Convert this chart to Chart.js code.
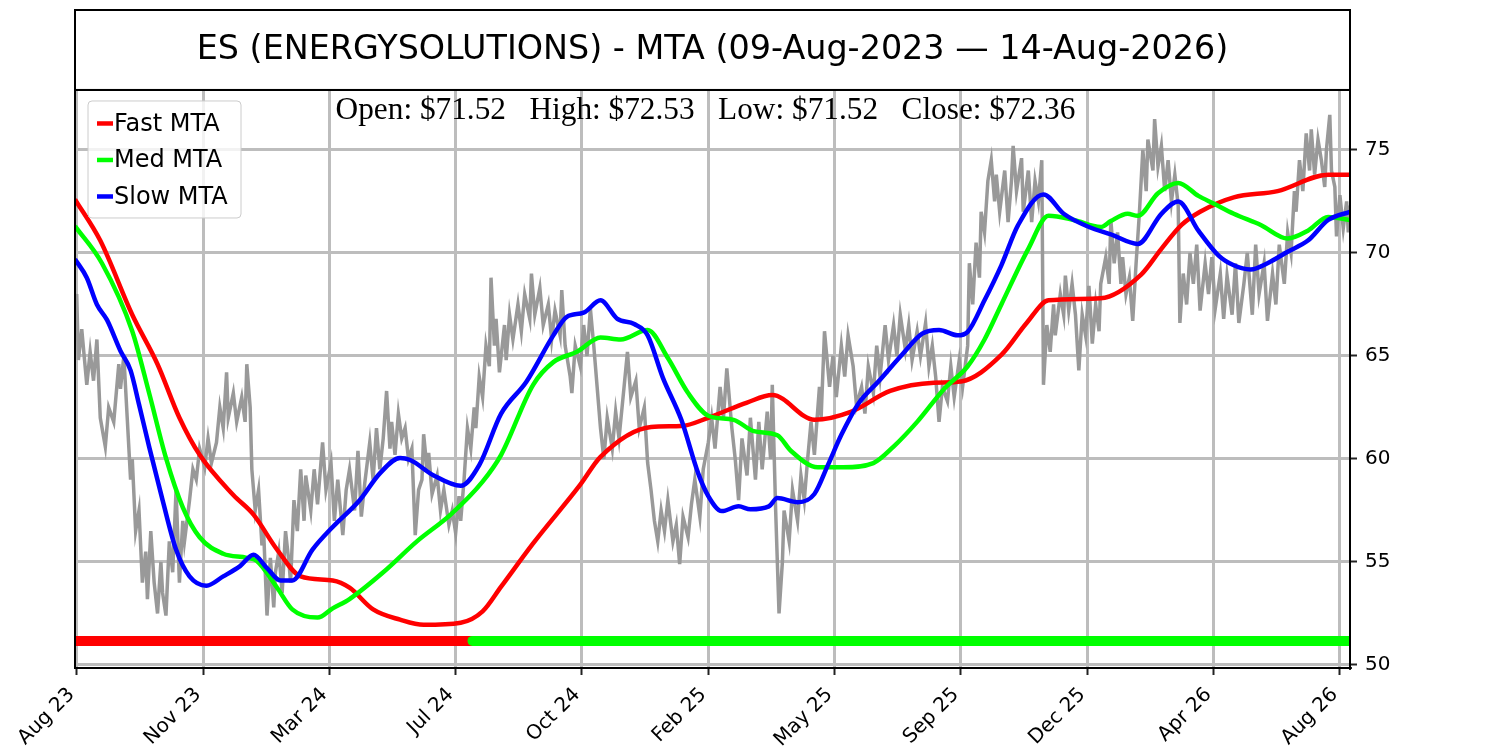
<!DOCTYPE html>
<html>
<head>
<meta charset="utf-8">
<title>ES (ENERGYSOLUTIONS) - MTA</title>
<script src="https://cdn.jsdelivr.net/npm/chart.js@4.4.1/dist/chart.umd.min.js"></script>
<style>
  html, body { margin: 0; padding: 0; background: #fff; }
  #wrap { width: 1500px; height: 750px; }
</style>
</head>
<body>
<div id="wrap"><canvas id="chart" width="1500" height="750"></canvas></div>
<script>
// x axis is the trading-day index (0 = 09-Aug-2023)
const lastDay = 757;
const tickDays = [1, 76, 151, 226, 301, 376, 451, 526, 601, 676, 751];
const tickLabels = ["Aug 23", "Nov 23", "Mar 24", "Jul 24", "Oct 24", "Feb 25",
  "May 25", "Sep 25", "Dec 25", "Apr 26", "Aug 26"];
const yTicks = [50, 55, 60, 65, 70, 75];

const titleText = "ES (ENERGYSOLUTIONS) - MTA (09-Aug-2023 \u2014 14-Aug-2026)";
const openPrice = 71.52;
const highPrice = 72.53;
const lowPrice = 71.52;
const closePrice = 72.36;

// price trace, [day, price]
const pricePath = [
  [0,67.5],[1,68.0],[2,64.8],[4,66.3],[7,63.6],[9,65.2],[11,63.8],[13,65.8],[15,62.0],[18,60.6],[20,62.5],
  [23,61.8],[26,64.6],[27,63.4],[29,65.0],[31,62.0],[33,59.0],[34,60.0],[36,56.5],[38,57.5],[40,54.0],
  [42,55.5],[43,53.2],[45,56.5],[47,54.0],[49,52.5],[51,55.0],[52,53.5],[54,52.4],[56,56.0],[58,54.5],
  [60,58.5],[62,54.0],[64,57.0],[65,56.0],[68,58.0],[70,59.5],[72,59.0],[74,60.5],[77,59.6],[79,61.0],
  [81,59.8],[84,60.8],[86,62.5],[88,61.5],[90,64.2],[91,62.0],[94,63.2],[96,61.8],[99,63.0],[101,61.8],
  [102,64.6],[104,62.5],[105,59.5],[107,57.5],[109,58.5],[111,55.8],[112,56.5],[114,52.4],[116,55.2],
  [118,52.8],[119,54.5],[121,55.5],[123,53.5],[125,56.5],[127,55.0],[128,54.0],[130,58.0],[132,56.5],
  [134,59.5],[136,57.0],[137,59.2],[140,57.5],[142,59.5],[144,57.8],[147,60.8],[149,58.5],[152,59.8],
  [154,57.0],[156,59.0],[159,56.3],[161,58.5],[163,59.5],[166,57.5],[168,60.4],[170,57.2],[172,58.8],
  [175,60.8],[177,59.0],[179,61.5],[181,59.5],[183,61.0],[185,63.3],[187,60.5],[188,61.8],[190,60.2],
  [192,62.2],[194,61.0],[196,61.5],[198,60.0],[200,60.5],[202,56.3],[204,58.5],[206,59.0],[207,61.2],
  [209,59.5],[210,60.3],[212,58.3],[215,59.2],[217,57.5],[219,58.5],[222,56.8],[224,57.5],[226,56.4],
  [228,58.2],[229,57.0],[231,59.0],[233,61.5],[235,60.5],[237,62.5],[238,61.5],[240,64.0],[242,63.0],
  [244,65.5],[246,64.5],[247,68.8],[249,65.5],[250,66.8],[252,64.2],[255,66.5],[256,64.8],[258,67.0],
  [260,65.8],[263,67.5],[265,66.2],[267,68.0],[270,66.8],[271,69.0],[273,67.0],[276,68.3],[278,66.5],
  [281,67.5],[283,65.8],[285,67.2],[288,66.0],[289,68.2],[291,65.5],[294,64.0],[295,63.2],[297,65.5],
  [300,64.5],[302,66.5],[304,65.0],[306,67.3],[308,65.5],[310,63.5],[312,61.5],[314,60.0],[316,62.0],
  [319,60.5],[321,62.3],[323,61.0],[326,63.5],[328,65.2],[330,63.0],[333,63.8],[335,61.5],[338,62.5],
  [340,59.8],[342,58.5],[344,57.0],[346,56.0],[348,57.5],[350,56.5],[352,58.0],[355,56.0],[357,56.8],
  [359,54.9],[361,57.2],[364,56.2],[366,57.8],[368,59.0],[371,57.2],[373,59.5],[376,60.8],[378,62.0],
  [380,60.5],[383,63.5],[385,62.0],[387,64.4],[390,61.5],[392,60.0],[394,58.0],[396,61.0],[399,59.2],
  [401,62.0],[404,59.0],[406,61.8],[408,59.5],[411,62.3],[413,60.0],[414,63.6],[416,57.5],[418,52.5],
  [420,55.0],[421,57.5],[424,56.0],[426,58.5],[429,57.0],[431,59.2],[433,58.0],[435,60.0],[437,61.8],
  [439,60.2],[442,63.5],[443,62.0],[445,66.2],[448,63.5],[450,65.0],[452,63.0],[455,65.5],[457,64.0],
  [459,66.0],[462,64.5],[464,62.6],[467,63.5],[469,62.2],[471,64.5],[474,63.2],[476,65.5],[478,64.0],
  [481,66.5],[483,64.8],[486,66.5],[488,65.0],[490,67.0],[493,65.3],[495,66.5],[497,64.8],[500,66.2],
  [502,65.0],[505,66.6],[507,64.5],[509,65.5],[511,64.0],[513,61.8],[515,63.5],[518,62.8],[520,64.5],
  [522,63.0],[525,64.8],[527,63.5],[530,65.5],[531,69.5],[533,67.5],[535,70.5],[537,68.8],[538,72.0],
  [540,71.0],[542,73.5],[544,74.5],[546,72.5],[547,73.8],[549,72.0],[552,74.0],[554,71.5],[556,73.5],
  [557,75.2],[559,73.0],[562,74.6],[563,72.0],[566,74.0],[568,71.5],[570,73.5],[572,72.5],[574,74.5],
  [575,63.6],[577,66.5],[579,65.2],[581,67.5],[582,66.0],[585,68.0],[587,67.0],[588,68.9],[590,67.2],
  [592,68.5],[594,67.0],[596,64.3],[598,67.0],[600,66.0],[602,68.4],[604,65.6],[606,67.5],[608,66.2],
  [609,68.5],[612,69.8],[614,68.5],[615,71.6],[617,69.5],[619,71.0],[621,68.5],[622,69.8],[624,68.0],
  [626,68.8],[628,66.7],[630,69.5],[632,72.0],[634,75.0],[636,73.0],[637,75.5],[640,74.0],[641,76.5],
  [643,74.2],[645,75.2],[647,73.0],[649,74.5],[651,72.5],[653,73.8],[655,72.3],[656,66.6],[658,69.0],
  [660,67.5],[662,70.0],[664,68.5],[666,70.4],[668,67.2],[671,69.5],[673,68.0],[675,69.8],[677,67.3],
  [680,69.0],[682,66.8],[684,68.9],[687,67.0],[689,69.5],[691,66.6],[694,68.5],[696,70.0],[699,67.0],
  [701,70.4],[703,68.0],[706,69.5],[708,66.7],[711,69.0],[713,67.5],[715,70.4],[718,68.5],[720,71.0],
  [722,70.0],[724,73.0],[725,72.0],[727,74.5],[729,73.0],[731,75.8],[733,74.0],[734,76.0],[736,73.8],
  [738,75.5],[740,74.5],[742,73.2],[743,75.0],[745,76.7],[746,74.0],[748,73.2],[749,70.8],[751,72.8],
  [753,71.2],[755,72.5],[756,71.0],[757,72.3]
];

// moving trend averages, [day, value]
const fastMta = [
  [0,72.6],[15,70.6],[34,67.0],[49,64.6],[62,62.0],[74,60.2],[94,58.25],[106,57.3],[120,55.6],[134,54.3],
  [153,54.1],[163,53.75],[177,52.7],[193,52.2],[207,51.95],[229,52.05],[242,52.6],[253,53.8],[272,55.9],
  [300,58.75],[312,60.1],[342,61.55],[360,61.6],[376,62.0],[399,62.74],[414,63.1],[439,61.9],[461,62.3],
  [484,63.3],[510,63.7],[526,63.76],[550,65.05],[565,66.6],[578,67.7],[609,67.8],[633,68.95],[645,70.2],
  [657,71.36],[668,72.0],[688,72.7],[714,73.0],[744,73.8],[757,73.8]
];
const medMta = [
  [0,71.3],[16,69.5],[34,66.2],[44,63.2],[54,60.05],[64,57.65],[74,56.2],[88,55.4],[102,55.2],[108,55.05],
  [120,53.75],[129,52.7],[144,52.3],[153,52.75],[163,53.2],[183,54.5],[203,56.0],[223,57.3],[242,58.9],
  [253,60.2],[272,63.6],[284,64.7],[298,65.2],[312,65.9],[324,65.8],[340,66.26],[352,64.9],[364,63.2],
  [376,62.1],[391,61.9],[403,61.35],[417,61.15],[425,60.4],[441,59.6],[456,59.6],[474,59.8],[486,60.6],
  [500,61.8],[516,63.4],[530,64.5],[540,65.8],[550,67.5],[566,70.2],[578,71.8],[593,71.6],[609,71.26],
  [615,71.55],[625,71.9],[631,71.8],[643,72.9],[655,73.4],[667,72.77],[676,72.4],[688,71.9],[704,71.36],
  [720,70.7],[732,71.08],[744,71.75],[757,71.6]
];
const slowMta = [
  [0,69.7],[7,68.8],[13,67.5],[19,66.75],[27,65.24],[33,64.3],[38,62.65],[44,60.6],[52,58.0],[60,55.6],
  [68,54.3],[78,53.85],[88,54.3],[98,54.8],[106,55.35],[114,54.7],[122,54.1],[129,54.1],[141,55.6],
  [153,56.7],[169,58.0],[181,59.3],[193,60.05],[199,59.95],[213,59.2],[229,58.7],[240,59.7],[253,62.2],
  [268,63.75],[284,66.0],[292,66.9],[302,67.1],[312,67.7],[322,66.8],[332,66.55],[340,66.0],[349,63.95],
  [360,61.9],[370,59.3],[376,58.2],[384,57.47],[394,57.7],[401,57.56],[412,57.7],[417,58.1],[429,57.9],
  [439,58.3],[447,59.7],[455,61.17],[465,62.67],[477,63.76],[491,65.06],[503,66.08],[513,66.26],[524,66.0],
  [530,66.17],[540,67.7],[550,69.4],[560,71.36],[575,72.84],[587,71.9],[602,71.26],[615,70.9],[631,70.44],
  [645,71.9],[655,72.5],[667,71.08],[679,69.87],[688,69.4],[698,69.2],[708,69.5],[720,70.06],[732,70.6],
  [744,71.6],[757,72.0]
];

// regime strip along the bottom: bearish until regimeSwitch, bullish after
const regimeLevel = 51.17;
const regimeSwitch = 236;

const toXY = (pts) => pts.map(([x, y]) => ({ x: x, y: y }));

function mtaLine(label, pts, color) {
  return {
    label: label,
    data: toXY(pts),
    borderColor: color,
    backgroundColor: color,
    borderWidth: 4.5,
    pointRadius: 0,
    cubicInterpolationMode: "monotone",
    fill: false,
    clip: 0,
    showInLegend: true,
  };
}

function regimeLine(label, from, to, color) {
  return {
    label: label,
    data: [{ x: from, y: regimeLevel }, { x: to, y: regimeLevel }],
    borderColor: color,
    backgroundColor: color,
    borderWidth: 10,
    borderCapStyle: "round",
    pointRadius: 0,
    fill: false,
    clip: 0,
  };
}

// first dataset is drawn on top
const datasets = [
  regimeLine("Bullish", regimeSwitch, lastDay, "#00ff00"),
  regimeLine("Bearish", 0, regimeSwitch, "#ff0000"),
  mtaLine("Slow MTA", slowMta, "#0000ff"),
  mtaLine("Med MTA", medMta, "#00ff00"),
  mtaLine("Fast MTA", fastMta, "#ff0000"),
  {
    label: "Price",
    data: toXY(pricePath),
    borderColor: "#999999",
    borderWidth: 3.5,
    pointRadius: 0,
    tension: 0,
    fill: false,
    clip: 0,
  },
];

const decor = {
  id: "decor",
  beforeDraw(chart) {
    const ctx = chart.ctx;
    ctx.save();
    ctx.fillStyle = "#fff";
    ctx.fillRect(0, 0, chart.width, chart.height);
    ctx.restore();
  },
  afterDatasetsDraw(chart) {
    const { ctx, chartArea: a } = chart;
    ctx.save();

    // OHLC line of the last bar
    const quote = "Open: $" + openPrice.toFixed(2) + "   High: $" + highPrice.toFixed(2) +
      "   Low: $" + lowPrice.toFixed(2) + "   Close: $" + closePrice.toFixed(2);
    ctx.font = '31.3px "Liberation Serif"';
    ctx.fillStyle = "#000";
    ctx.textAlign = "center";
    ctx.textBaseline = "alphabetic";
    ctx.fillText(quote, (a.left + a.right) / 2 - 7, a.top + 29);

    // legend box, top left
    const items = chart.data.datasets.filter((d) => d.showInLegend).reverse();
    const bx = a.left + 13, by = a.top + 11, bw = 153, bh = 117;
    ctx.beginPath();
    ctx.roundRect(bx, by, bw, bh, 4);
    ctx.fillStyle = "rgba(255,255,255,0.8)";
    ctx.fill();
    ctx.strokeStyle = "#cccccc";
    ctx.lineWidth = 1;
    ctx.stroke();

    ctx.font = '24px "DejaVu Sans"';
    ctx.textAlign = "left";
    ctx.textBaseline = "middle";
    items.forEach((d, i) => {
      const cy = by + 22.5 + i * 36.5;
      ctx.beginPath();
      ctx.moveTo(bx + 9, cy);
      ctx.lineTo(bx + 25, cy);
      ctx.strokeStyle = d.borderColor;
      ctx.lineWidth = 4.5;
      ctx.stroke();
      ctx.fillStyle = "#000";
      ctx.fillText(d.label, bx + 26, cy + 1);
    });
    ctx.restore();
  },
  afterDraw(chart) {
    const { ctx, chartArea: a } = chart;
    ctx.save();
    ctx.strokeStyle = "#000";
    ctx.lineWidth = 2;
    ctx.strokeRect(a.left, a.top, a.right - a.left, a.bottom - a.top);
    ctx.strokeRect(a.left, 10, a.right - a.left, a.top - 10);
    ctx.restore();
  },
};

new Chart(document.getElementById("chart"), {
  type: "line",
  data: { datasets: datasets },
  options: {
    responsive: false,
    animation: false,
    devicePixelRatio: 1,
    layout: { padding: { top: 10, left: 75, right: 0, bottom: 0 } },
    plugins: {
      legend: { display: false },
      tooltip: { enabled: false },
      title: {
        display: true,
        text: titleText,
        fullSize: false,
        color: "#000",
        font: { family: "DejaVu Sans", size: 33.4, weight: "normal" },
        padding: { top: 20, bottom: 19.9 },
      },
    },
    scales: {
      x: {
        type: "linear",
        min: 0,
        max: lastDay,
        afterBuildTicks: (s) => { s.ticks = tickDays.map((v) => ({ value: v })); },
        afterFit: (s) => { s.height = 82; },
        ticks: {
          autoSkip: false,
          minRotation: 45,
          maxRotation: 45,
          color: "#000",
          font: { family: "DejaVu Sans", size: 20 },
          padding: 8,
          labelOffset: -5,
          callback: (v) => tickLabels[tickDays.indexOf(v)] || "",
        },
        grid: { color: "#bdbdbd", lineWidth: 3, tickColor: "#222", tickLength: 7, tickWidth: 2 },
        border: { color: "#222", width: 2 },
      },
      y: {
        position: "right",
        min: 49.854,
        max: 77.91,
        afterBuildTicks: (s) => { s.ticks = yTicks.map((v) => ({ value: v })); },
        afterFit: (s) => { s.width = 150; },
        ticks: {
          color: "#000",
          font: { family: "DejaVu Sans", size: 20 },
          padding: 8,
          callback: (v) => String(v),
        },
        grid: { color: "#bdbdbd", lineWidth: 3, tickColor: "#222", tickLength: 7, tickWidth: 2 },
        border: { color: "#222", width: 2 },
      },
    },
  },
  plugins: [decor],
});
</script>
</body>
</html>
